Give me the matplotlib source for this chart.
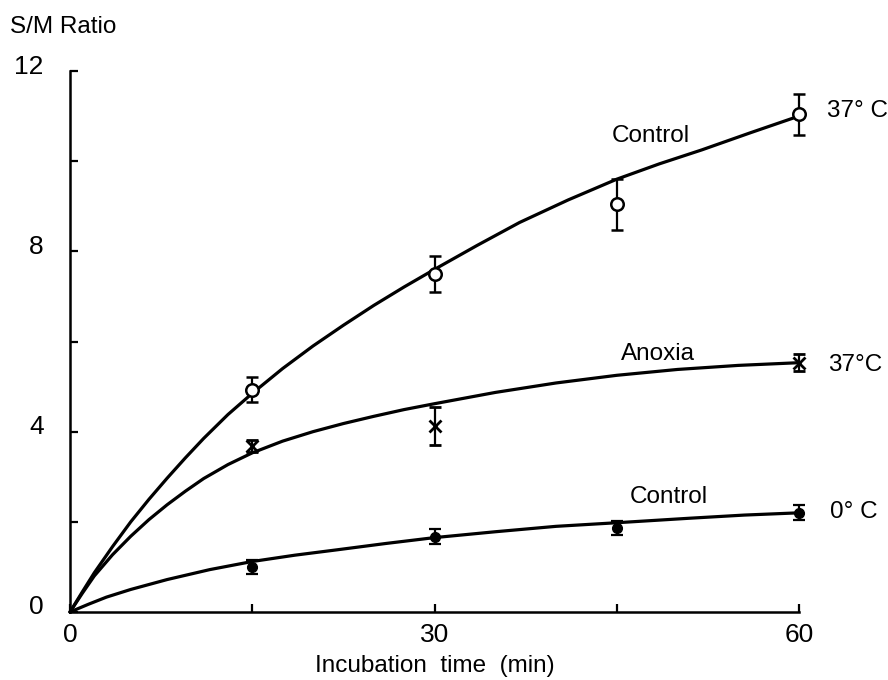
import matplotlib
matplotlib.use("Agg")
import matplotlib.pyplot as plt
from matplotlib.transforms import ScaledTranslation

plt.rcParams['font.family'] = ['Liberation Sans', 'DejaVu Sans']

# measured points (minutes, S/M ratio, error)
t_c37 = [15, 30, 45, 60]
y_c37 = [4.93, 7.49, 9.04, 11.04]
e_c37 = [0.28, 0.40, 0.56, 0.46]

t_anox = [15, 30, 60]
y_anox = [3.69, 4.12, 5.53]
e_anox = [0.13, 0.42, 0.19]

t_c0 = [15, 30, 45, 60]
y_c0 = [1.00, 1.67, 1.86, 2.20]
e_c0 = [0.15, 0.16, 0.15, 0.17]

# fitted curves
ct_c37 = [0, 1, 2, 3.5, 5, 6.5, 8, 9.5, 11, 13, 15, 17.5, 20, 22.5, 25, 27.5, 30,
          33.5, 37, 41, 45, 48.5, 52, 56, 60]
cy_c37 = [0, 0.44, 0.87, 1.45, 2.0, 2.5, 2.97, 3.42, 3.85, 4.38, 4.85, 5.4, 5.9, 6.36,
          6.8, 7.21, 7.6, 8.13, 8.64, 9.14, 9.6, 9.94, 10.25, 10.63, 11.0]

ct_anox = [0, 1, 2, 3.5, 5, 6.5, 8, 9.5, 11, 13, 15, 17.5, 20, 22.5, 25, 27.5, 30,
           35, 40, 45, 50, 55, 60]
cy_anox = [0, 0.41, 0.8, 1.27, 1.68, 2.05, 2.38, 2.68, 2.96, 3.27, 3.53, 3.79, 4.0,
           4.18, 4.34, 4.49, 4.62, 4.87, 5.08, 5.25, 5.38, 5.47, 5.53]

ct_c0 = [0, 1.5, 3, 5, 8, 11.5, 15, 18.5, 22, 26, 30, 35, 40, 45, 51, 55.5, 60]
cy_c0 = [0, 0.17, 0.33, 0.5, 0.72, 0.94, 1.12, 1.26, 1.38, 1.52, 1.65, 1.78, 1.9,
         1.98, 2.08, 2.15, 2.2]

x_ticks = [0, 15, 30, 45, 60]
x_labels = ['0', '', '30', '', '60']
y_ticks = [0, 2, 4, 6, 8, 10, 12]
y_labels = ['0', '', '4', '', '8', '', '12']

FS = 17.5

fig = plt.figure(figsize=(8.88, 6.8), dpi=100)
ax = fig.add_axes([70/888, 68/680, 729/888, 541/680])

lw = 2.3
for ct, cy in [(ct_c37, cy_c37), (ct_anox, cy_anox), (ct_c0, cy_c0)]:
    ax.plot(ct, cy, color='black', lw=lw, clip_on=False,
            solid_capstyle='round', solid_joinstyle='round')

ax.errorbar(t_c37, y_c37, yerr=e_c37, fmt='o', ms=9, mfc='white', mec='black', mew=1.8,
            ecolor='black', elinewidth=1.6, capsize=4.2, capthick=1.6, clip_on=False, zorder=5)
ax.errorbar(t_anox, y_anox, yerr=e_anox, fmt='x', ms=9, mec='black', mew=2.0,
            ecolor='black', elinewidth=1.6, capsize=4.2, capthick=1.6, clip_on=False, zorder=5)
ax.errorbar(t_c0, y_c0, yerr=e_c0, fmt='o', ms=7, mfc='black', mec='black',
            ecolor='black', elinewidth=1.6, capsize=4.2, capthick=1.6, clip_on=False, zorder=5)

ax.set_xlim(0, 60)
ax.set_ylim(0, 12)
for s in ['top', 'right']:
    ax.spines[s].set_visible(False)
for s in ['left', 'bottom']:
    ax.spines[s].set_linewidth(1.8)

ax.set_xticks(x_ticks)
ax.set_xticklabels(x_labels)
ax.set_yticks(y_ticks)
ax.set_yticklabels(y_labels)
ax.tick_params(direction='in', length=6, width=1.6, labelsize=19)
ax.tick_params(axis='y', pad=19)
ax.tick_params(axis='x', pad=8)
for lab in ax.get_yticklabels():
    lab.set_transform(lab.get_transform() + ScaledTranslation(0, 7/100, fig.dpi_scale_trans))

ax.set_xlabel('Incubation  time  (min)', fontsize=FS, labelpad=6)
fig.text(10/888, 1 - 27/680, 'S/M Ratio', fontsize=FS, ha='left', va='center')

ax.text(47.8, 10.56, 'Control', fontsize=FS, ha='center', va='center')
ax.text(62.3, 11.11, '37° C', fontsize=FS, ha='left', va='center', clip_on=False)
ax.text(48.4, 5.73, 'Anoxia', fontsize=FS, ha='center', va='center')
ax.text(62.4, 5.47, '37°C', fontsize=FS, ha='left', va='center', clip_on=False)
ax.text(49.3, 2.56, 'Control', fontsize=FS, ha='center', va='center')
ax.text(62.55, 2.22, '0° C', fontsize=FS, ha='left', va='center', clip_on=False)

fig.savefig('out.png', dpi=100)
